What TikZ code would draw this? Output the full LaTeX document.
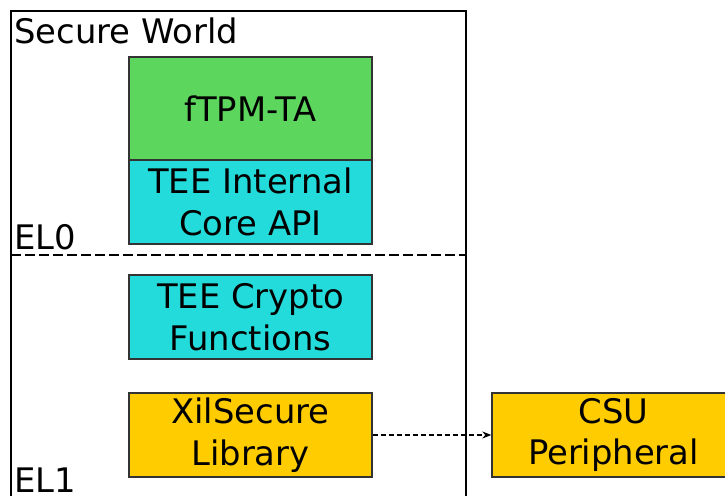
\documentclass[tikz,border=0pt]{standalone}
\usepackage{fontspec}
\setmainfont{DejaVu Sans}
\usetikzlibrary{arrows.meta}
\definecolor{cgreen}{RGB}{92,214,92}
\definecolor{ccyan}{RGB}{36,219,219}
\definecolor{cyellow}{RGB}{255,204,0}
\tikzset{
  blk/.style={draw=black!80, line width=1.3pt, minimum width=243pt, inner sep=0pt, align=center,
    font=\fontsize{33.8}{41.5}\selectfont},
  lbl/.style={inner sep=0pt, font=\fontsize{33.8}{41}\selectfont},
}
\begin{document}
\begin{tikzpicture}[x=1pt,y=1pt]
\useasboundingbox (0,0) rectangle (725,495);
\clip (0,0) rectangle (725,495);
\fill[white] (0,0) rectangle (725,495);
\coordinate (owtl) at (11,484);
\coordinate (owbr) at (466,-20);
\draw[line width=2pt] (owtl) rectangle (owbr);
\coordinate (dl) at (11,240);
\coordinate (dr) at (466,240);
\draw[line width=1.5pt, dash pattern=on 10pt off 4pt] (dl) -- (dr);
\node[lbl, anchor=base west] (sw) at (14,451) {Secure World};
\node[lbl, anchor=base west] (el0) at (14,245) {EL0};
\node[lbl, anchor=base west] (el1) at (14,2) {EL1};
\node[blk, fill=cgreen, minimum height=103pt] (ftpm) at (250.5,386.5) {fTPM-TA};
\node[blk, fill=ccyan, minimum height=84pt] (tint) at (250.5,293) {TEE Internal\\Core API};
\node[blk, fill=ccyan, minimum height=84pt] (tcry) at (250.5,178) {TEE Crypto\\Functions};
\node[blk, fill=cyellow, minimum height=84pt] (xil) at (250.5,60) {XilSecure\\Library};
\node[blk, fill=cyellow, minimum height=84pt] (csu) at (613.5,60) {CSU\\Peripheral};
\draw[line width=1.6pt, dash pattern=on 5pt off 3pt, -{Stealth[length=9pt,width=7pt]}] (xil) -- (csu);
\end{tikzpicture}
\end{document}
